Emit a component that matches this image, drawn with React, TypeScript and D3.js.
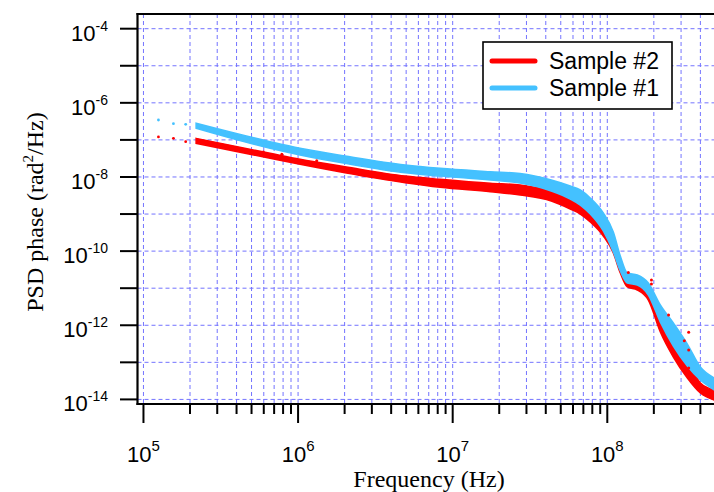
import React from "react";
import * as d3 from "d3";

// ---- Data ----
const bandFreq = [
  2.19e5, 6.59e5, 1.03e6, 2.01e6, 4.93e6, 8.3e6, 1.75e7, 2.73e7, 4.34e7, 5.76e7,
  6.69e7, 7.76e7, 9.42e7, 1.094e8, 1.214e8, 1.347e8, 1.564e8, 1.843e8, 2.203e8,
  2.674e8, 3.294e8, 4.0e8, 4.93e8,
];
// Sample #1 (blue) band: upper / lower envelope of the noisy points
const sample1Upper = [
  2.81e-7, 8.95e-8, 5.94e-8, 3.68e-8, 2.1e-8, 1.71e-8, 1.39e-8, 1.24e-8, 8.28e-9, 5.71e-9,
  4.46e-9, 2.71e-9, 1.07e-9, 3.28e-10, 7.38e-11, 2.57e-11, 2.27e-11, 1.38e-11, 3.52e-12,
  1.15e-12, 3.12e-13, 7.48e-14, 3.78e-14,
];
const sample1Lower = [
  2.06e-7, 5.94e-8, 3.92e-8, 2.34e-8, 1.3e-8, 1.06e-8, 8.28e-9, 6.87e-9, 4.19e-9, 2.55e-9,
  1.75e-9, 1.0e-9, 3.49e-10, 9.46e-11, 2.91e-11, 1.38e-11, 1.22e-11, 6.55e-12, 1.22e-12,
  2.76e-13, 7.96e-14, 3.33e-14, 1.79e-14,
];
// Sample #2 (red) band
const sample2Upper = [
  1.1e-7, 4.35e-8, 3.0e-8, 1.89e-8, 1.06e-8, 8.65e-9, 6.75e-9, 6.08e-9, 4.19e-9, 2.88e-9,
  2.25e-9, 1.37e-9, 6.1e-10, 2.12e-10, 6.12e-11, 1.88e-11, 1.38e-11, 8.93e-12, 1.89e-12,
  4.53e-13, 1.16e-13, 2.77e-14, 1.79e-14,
];
const sample2Lower = [
  8.1e-8, 3.19e-8, 2.2e-8, 1.3e-8, 7.0e-9, 5.27e-9, 4.0e-9, 3.27e-9, 2.25e-9, 1.37e-9,
  1.0e-9, 6.1e-10, 2.56e-10, 8.9e-11, 2.57e-11, 1.08e-11, 8.93e-12, 4.8e-12, 6.58e-13,
  1.39e-13, 3.78e-14, 1.49e-14, 9.6e-15,
];
// sparse low-frequency points
const sparseFreq = [1.25e5, 1.5625e5, 1.875e5];
const sample1Sparse = [3.44e-7, 2.74e-7, 2.64e-7];
const sample2Sparse = [1.2e-7, 1.1e-7, 8.95e-8];
// isolated red points
const outlierFreq = [5.96e5, 7.85e5, 1.32e6, 1.368e8, 1.93e8, 1.93e8, 2.49e8, 3.36e8, 3.15e8, 3.36e8, 3.36e8, 4.16e8];
const outlierVal = [4.72e-8, 4.09e-8, 2.75e-8, 2.65e-11, 1.66e-11, 1.3e-11, 1.89e-12, 6.46e-13, 3.83e-13, 2.15e-13, 7.03e-14, 1.87e-14];

const xMajorExp = [5, 6, 7, 8];
const yTickExp = [-4, -5, -6, -7, -8, -9, -10, -11, -12, -13, -14];
const yLabelExp = [-4, -6, -8, -10, -12, -14];
const legendItems = ["Sample #2", "Sample #1"];

const RED = "#ff0000";
const BLUE = "#44c1ff";
const GRID = "#5c5cff";

export default function App() {
  const W = 714, H = 492;
  const left = 137.5, right = 718, top = 14, bottom = 404;
  const x = d3.scaleLog().domain([9.15e4, 5.2e8]).range([left, right]);
  const y = d3.scaleLog().domain([7.52e-15, 2.49e-4]).range([bottom, top]);

  const minorX: number[] = [];
  for (let e = 4; e <= 8; e++)
    for (let m = 2; m <= 9; m++) {
      const v = m * Math.pow(10, e);
      if (v >= 9.15e4 && v <= 5.0e8) minorX.push(v);
    }
  const majorX = xMajorExp.map((e) => Math.pow(10, e));
  const gridX = [...majorX, ...minorX];

  const idx = bandFreq.map((_, i) => i);
  const mkArea = (lo: number[], hi: number[]) =>
    d3
      .area<number>()
      .x((i) => x(bandFreq[i]))
      .y0((i) => y(lo[i]))
      .y1((i) => y(hi[i]))
      .curve(d3.curveMonotoneX)(idx) || "";

  const tickFont = "'Liberation Sans', Arial, Helvetica, sans-serif";
  const titleFont = "'Liberation Serif', 'Times New Roman', serif";

  return (
    <svg
      width={W}
      height={H}
      style={{ position: "absolute", left: 0, top: 0, background: "#fff" }}
    >
      <defs>
        <clipPath id="plotClip">
          <rect x={left} y={top} width={W - left} height={bottom - top} />
        </clipPath>
      </defs>
      <rect x={0} y={0} width={W} height={H} fill="#fff" />

      {/* grid */}
      <g stroke={GRID} strokeWidth={1} strokeDasharray="4,3" opacity={0.85}>
        {gridX.map((v, i) => (
          <line key={"gx" + i} x1={x(v)} x2={x(v)} y1={top} y2={bottom} />
        ))}
        {yTickExp.map((e) => (
          <line key={"gy" + e} x1={left} x2={W} y1={y(Math.pow(10, e))} y2={y(Math.pow(10, e))} />
        ))}
      </g>

      {/* data */}
      <g clipPath="url(#plotClip)">
        <path d={mkArea(sample2Lower, sample2Upper)} fill={RED} stroke={RED} strokeWidth={1.5} />
        <path d={mkArea(sample1Lower, sample1Upper)} fill={BLUE} stroke={BLUE} strokeWidth={1.5} />
        {sparseFreq.map((f, i) => (
          <circle key={"s1" + i} cx={x(f)} cy={y(sample1Sparse[i])} r={1.4} fill={BLUE} />
        ))}
        {sparseFreq.map((f, i) => (
          <circle key={"s2" + i} cx={x(f)} cy={y(sample2Sparse[i])} r={1.4} fill={RED} />
        ))}
        {outlierFreq.map((f, i) => (
          <circle key={"o" + i} cx={x(f)} cy={y(outlierVal[i])} r={1.5} fill={RED} />
        ))}
      </g>

      {/* axes frame */}
      <g stroke="#000" strokeWidth={2.2} fill="none">
        <line x1={left} x2={left} y1={top - 1} y2={bottom + 1} />
        <line x1={left - 1} x2={W} y1={bottom} y2={bottom} />
        <line x1={left - 1} x2={W} y1={top} y2={top} />
      </g>

      {/* y ticks */}
      <g stroke="#000" strokeWidth={2}>
        {yTickExp.map((e) => (
          <line key={"yt" + e} x1={120} x2={left} y1={y(Math.pow(10, e))} y2={y(Math.pow(10, e))} />
        ))}
      </g>
      <g fontFamily={tickFont} fontSize={22} fill="#000">
        {yLabelExp.map((e) => (
          <text key={"yl" + e} x={108} y={y(Math.pow(10, e)) + 12} textAnchor="end">
            10
            <tspan fontSize={14} dy={-10}>
              {String(e)}
            </tspan>
          </text>
        ))}
      </g>

      {/* x ticks */}
      <g stroke="#000" strokeWidth={2}>
        {majorX.map((v, i) => (
          <line key={"xm" + i} x1={x(v)} x2={x(v)} y1={bottom} y2={bottom + 19} />
        ))}
        {minorX.map((v, i) => (
          <line key={"xn" + i} x1={x(v)} x2={x(v)} y1={bottom} y2={bottom + 10} />
        ))}
      </g>
      <g fontFamily={tickFont} fontSize={22} fill="#000">
        {xMajorExp.map((e) => (
          <text key={"xl" + e} x={x(Math.pow(10, e))} y={462} textAnchor="middle">
            10
            <tspan fontSize={15} dy={-11}>
              {String(e)}
            </tspan>
          </text>
        ))}
      </g>

      {/* axis titles */}
      <text x={429} y={487} textAnchor="middle" fontFamily={titleFont} fontSize={24} fill="#000">
        Frequency (Hz)
      </text>
      <text
        transform="translate(43,212) rotate(-90)"
        textAnchor="middle"
        fontFamily={titleFont}
        fontSize={24}
        fill="#000"
      >
        PSD phase (rad
        <tspan fontSize={15} dy={-10}>
          2
        </tspan>
        <tspan dy={10}>/Hz)</tspan>
      </text>

      {/* legend */}
      <g>
        <rect x={483} y={42} width={189} height={67} fill="#fff" stroke="#000" strokeWidth={1.6} />
        {legendItems.map((name, i) => (
          <g key={name}>
            <line
              x1={492}
              x2={535}
              y1={61 + i * 27}
              y2={61 + i * 27}
              stroke={i === 0 ? RED : BLUE}
              strokeWidth={5}
              strokeLinecap="round"
            />
            <text x={549} y={69 + i * 27} fontFamily={tickFont} fontSize={23} fill="#000">
              {name}
            </text>
          </g>
        ))}
      </g>
    </svg>
  );
}
